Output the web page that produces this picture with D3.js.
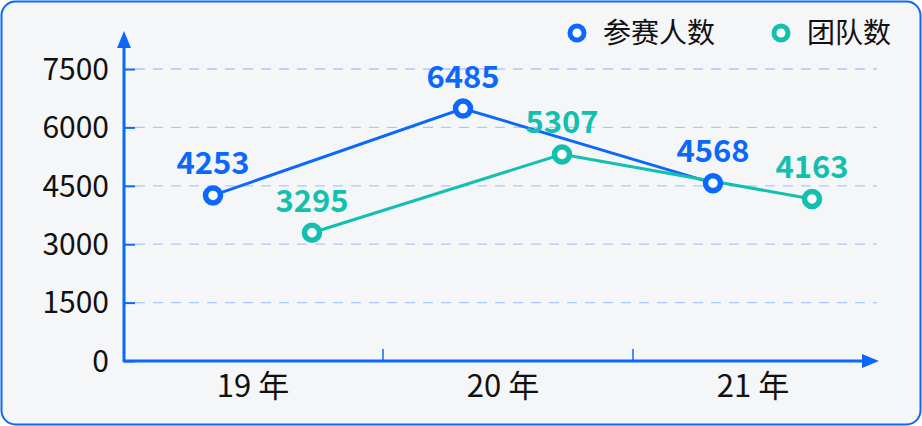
<!DOCTYPE html>
<html>
<head>
<meta charset="utf-8">
<script src="https://cdn.jsdelivr.net/npm/d3@7"></script>
<style>
  html, body { margin: 0; padding: 0; background: #fff; }
  svg { display: block; font-family: "Noto Sans CJK SC", "Noto Sans", sans-serif; }
</style>
</head>
<body>
<svg id="chart" width="922" height="426"></svg>
<script>
(function () {
  'use strict';

  var years = ['19 年', '20 年', '21 年'];
  var players = [4253, 6485, 4568];
  var teams = [3295, 5307, 4163];
  var yTicks = [0, 1500, 3000, 4500, 6000, 7500];
  var seriesNames = ['参赛人数', '团队数'];

  var BLUE = '#0b68fb';
  var TEAL = '#13bfae';
  var GRID = '#a9c9fb';

  var svg = d3.select('#chart');

  // ── Frame ───────────────────────────────────────────────────────────────────
  svg.append('rect')
    .attr('x', 1.5).attr('y', 1.5)
    .attr('width', 919).attr('height', 423)
    .attr('rx', 14).attr('ry', 14)
    .attr('fill', '#f5f6f8')
    .attr('stroke', BLUE)
    .attr('stroke-width', 2);

  var x = d3.scaleBand().domain(years).range([133, 883]);
  var y = d3.scaleLinear().domain([0, 7500]).range([361, 69]);

  var series = [
    { name: seriesNames[0], values: players, color: BLUE, shift: -45 },
    { name: seriesNames[1], values: teams, color: TEAL, shift: 54 }
  ];

  function px(i, s) { return x(years[i]) + x.bandwidth() / 2 + s.shift; }

  // ── Grid ────────────────────────────────────────────────────────────────────
  svg.append('g')
    .selectAll('line')
    .data(yTicks.filter(function (t) { return t > 0; }))
    .join('line')
    .attr('x1', 135).attr('x2', 877)
    .attr('y1', function (d) { return y(d); })
    .attr('y2', function (d) { return y(d); })
    .attr('stroke', GRID)
    .attr('stroke-width', 1.3)
    .attr('stroke-dasharray', '10 8');

  // ── Y axis ──────────────────────────────────────────────────────────────────
  var yAxis = svg.append('g')
    .attr('transform', 'translate(124,0)')
    .call(d3.axisLeft(y).tickValues(yTicks).tickFormat(d3.format('d')).tickSize(-11).tickPadding(15));
  yAxis.select('.domain').remove();
  yAxis.selectAll('.tick line').attr('stroke', BLUE).attr('stroke-width', 2);
  yAxis.selectAll('.tick text')
    .attr('fill', '#111')
    .attr('font-size', 30)
    .attr('font-family', '"Noto Sans CJK SC", sans-serif')
    .attr('dy', '0.34em');

  svg.append('line')
    .attr('x1', 124).attr('x2', 124).attr('y1', 45).attr('y2', 362)
    .attr('stroke', BLUE).attr('stroke-width', 3);
  svg.append('path')
    .attr('d', 'M124,31 L117,48 L131,48 Z')
    .attr('fill', BLUE);

  // ── X axis ──────────────────────────────────────────────────────────────────
  var xAxis = svg.append('g')
    .attr('transform', 'translate(0,361)')
    .call(d3.axisBottom(x).tickSize(0).tickPadding(13));
  xAxis.select('.domain').remove();
  xAxis.selectAll('.tick text')
    .attr('fill', '#111')
    .attr('font-size', 31)
    .attr('font-family', '"Noto Sans CJK SC", sans-serif')
    .attr('dx', -5)
    .attr('dy', '0.75em');

  svg.append('g')
    .selectAll('line')
    .data(years.slice(1))
    .join('line')
    .attr('x1', function (d) { return x(d); })
    .attr('x2', function (d) { return x(d); })
    .attr('y1', 349).attr('y2', 361)
    .attr('stroke', BLUE).attr('stroke-width', 1.5);

  svg.append('line')
    .attr('x1', 123).attr('x2', 866).attr('y1', 361).attr('y2', 361)
    .attr('stroke', BLUE).attr('stroke-width', 3);
  svg.append('path')
    .attr('d', 'M879,361 L862,354 L862,368 Z')
    .attr('fill', BLUE);

  // ── Lines + markers ─────────────────────────────────────────────────────────
  series.forEach(function (s) {
    var line = d3.line()
      .x(function (d, i) { return px(i, s); })
      .y(function (d) { return y(d); });

    svg.append('path')
      .datum(s.values)
      .attr('d', line)
      .attr('fill', 'none')
      .attr('stroke', s.color)
      .attr('stroke-width', 3);
  });

  series.forEach(function (s) {
    var g = svg.append('g');
    g.selectAll('circle')
      .data(s.values)
      .join('circle')
      .attr('cx', function (d, i) { return px(i, s); })
      .attr('cy', function (d) { return y(d); })
      .attr('r', 7.5)
      .attr('fill', '#fff')
      .attr('stroke', s.color)
      .attr('stroke-width', 5.5);

    g.selectAll('text')
      .data(s.values)
      .join('text')
      .attr('x', function (d, i) { return px(i, s); })
      .attr('y', function (d) { return y(d) - 21; })
      .attr('text-anchor', 'middle')
      .attr('fill', s.color)
      .attr('font-size', 31)
      .attr('font-weight', 'bold')
      .text(function (d) { return d; });
  });

  // ── Legend ──────────────────────────────────────────────────────────────────
  var legendX = [577, 781];
  var legend = svg.append('g')
    .selectAll('g')
    .data(series)
    .join('g')
    .attr('transform', function (d, i) { return 'translate(' + legendX[i] + ',33)'; });
  legend.append('circle')
    .attr('r', 7)
    .attr('fill', '#fff')
    .attr('stroke', function (d) { return d.color; })
    .attr('stroke-width', 5);
  legend.append('text')
    .attr('x', 26)
    .attr('dy', '0.36em')
    .attr('fill', '#111')
    .attr('font-size', 28)
    .text(function (d) { return d.name; });
})();
</script>
</body>
</html>
